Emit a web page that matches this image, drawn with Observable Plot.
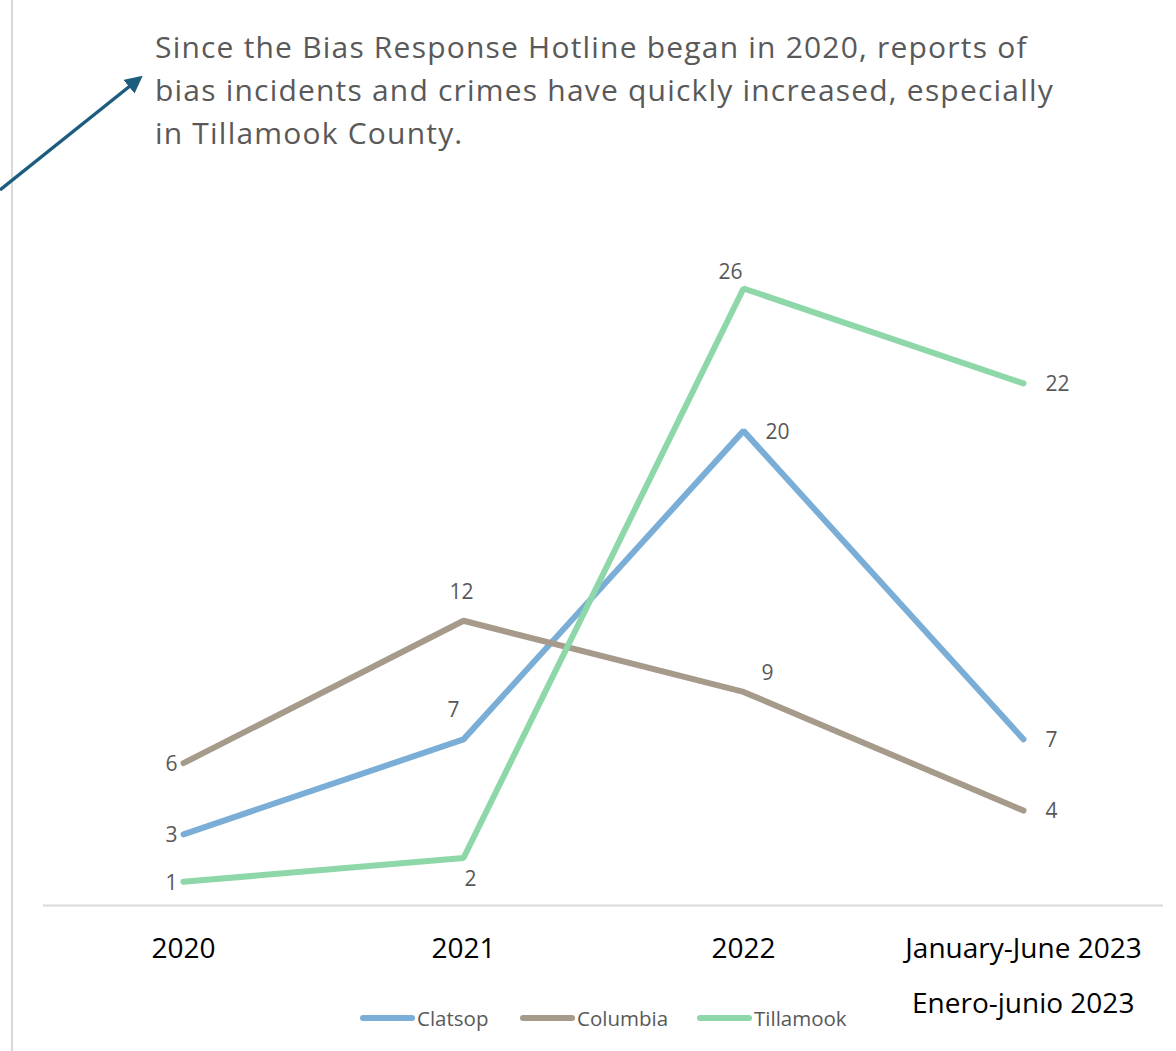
<!DOCTYPE html>
<html>
<head>
<meta charset="utf-8">
<script src="https://cdn.jsdelivr.net/npm/d3@7"></script>
<script src="https://cdn.jsdelivr.net/npm/@observablehq/plot@0.6"></script>
<style>
  html, body { margin: 0; padding: 0; background: #fff; }
  #wrap { position: relative; width: 1176px; height: 1051px; overflow: hidden; font-family: "Open Sans", "Noto Sans", sans-serif; }
  #wrap > svg.plot { position: absolute; left: 0; top: 0; }
  #title { position: absolute; left: 155px; top: 25px; width: 1000px; font-size: 30px; letter-spacing: 1.2px; line-height: 43px; color: #595959; white-space: nowrap; }
  #legend { position: absolute; top: 1004px; left: 0; width: 1176px; height: 30px; font-size: 20.5px; color: #595959; }
  .lg { position: absolute; display: flex; align-items: center; }
  .sw { width: 55px; height: 6px; border-radius: 3px; margin-right: 2px; }
  #note { position: absolute; left: 912px; top: 983px; font-size: 28px; color: #000; }
  #frame { position: absolute; left: 11px; top: 0; width: 2px; height: 1051px; background: #d9d9d9; }
  #arrow { position: absolute; left: 0; top: 0; }
</style>
</head>
<body>
<div id="wrap">
  <div id="frame"></div>
  <div id="title"></div>
  <div id="note"></div>
  <div id="legend"></div>
</div>
<script>
// ---- data ----
const categories = ["2020", "2021", "2022", "January-June 2023"];
const seriesNames = ["Clatsop", "Columbia", "Tillamook"];
const clatsop = [3, 7, 20, 7];
const columbia = [6, 12, 9, 4];
const tillamook = [1, 2, 26, 22];
const titleLines = [
  "Since the Bias Response Hotline began in 2020, reports of",
  "bias incidents and crimes have quickly increased, especially",
  "in Tillamook County."
];
const noteText = "Enero-junio 2023";
// label placement per point (style, not data)
const clatsopPlace = ["left", "aboveLeft", "right", "right"];
const columbiaPlace = ["left", "above", "aboveRight", "right"];
const tillamookPlace = ["left", "below", "aboveLeft2", "right"];

const colors = { Clatsop: "#7aaed6", Columbia: "#a69a8a", Tillamook: "#8ed7a9" };

const rows = [];
[[seriesNames[0], clatsop, clatsopPlace], [seriesNames[1], columbia, columbiaPlace], [seriesNames[2], tillamook, tillamookPlace]]
  .forEach(([name, vals, places]) => vals.forEach((v, i) => rows.push({ series: name, cat: categories[i], value: v, place: places[i] })));

const placements = {
  left:       { dx: -6,  dy: 1,   textAnchor: "end" },
  right:      { dx: 22,  dy: 1,   textAnchor: "start" },
  above:      { dx: -2,  dy: -28, textAnchor: "middle" },
  aboveLeft:  { dx: -10, dy: -29, textAnchor: "middle" },
  aboveRight: { dx: 24,  dy: -19, textAnchor: "middle" },
  aboveLeft2: { dx: -13, dy: -16, textAnchor: "middle" },
  below:      { dx: 7,   dy: 21,  textAnchor: "middle" }
};

const textMarks = Object.entries(placements).map(([k, p]) =>
  Plot.text(rows.filter(d => d.place === k), {
    x: "cat", y: "value", text: d => String(d.value),
    dx: p.dx, dy: p.dy, textAnchor: p.textAnchor,
    fontSize: 21, fill: "#595959"
  })
);

const chart = Plot.plot({
  width: 1176,
  height: 1051,
  marginTop: 288,
  marginBottom: 146,
  marginLeft: 43,
  marginRight: 13,
  style: { fontFamily: "'Open Sans', 'Noto Sans', sans-serif", background: "transparent", overflow: "visible" },
  x: { type: "point", domain: categories, padding: 0.5, label: null },
  y: { domain: [0, 26], axis: null },
  color: { domain: seriesNames, range: seriesNames.map(s => colors[s]) },
  marks: [
    Plot.ruleY([0], { stroke: "#d9d9d9", strokeWidth: 2 }),
    Plot.line(rows, { x: "cat", y: "value", z: "series", stroke: "series", strokeWidth: 6, strokeLinecap: "round", strokeLinejoin: "miter" }),
    ...textMarks,
    Plot.axisX({ tickSize: 0, tickPadding: 33, fontSize: 28, fill: "#000", label: null })
  ]
});
chart.classList.add("plot");
const wrap = document.getElementById("wrap");
wrap.insertBefore(chart, wrap.firstChild.nextSibling);

const titleEl = document.getElementById("title");
titleLines.forEach((l, i) => {
  if (i) titleEl.appendChild(document.createElement("br"));
  titleEl.appendChild(document.createTextNode(l));
});
document.getElementById("note").textContent = noteText;

// legend
const legendX = { Clatsop: 360, Columbia: 520, Tillamook: 697 };
const legend = document.getElementById("legend");
seriesNames.forEach(s => {
  const item = document.createElement("div");
  item.className = "lg";
  item.style.left = legendX[s] + "px";
  const sw = document.createElement("div");
  sw.className = "sw";
  sw.style.background = colors[s];
  const t = document.createElement("span");
  t.textContent = s;
  item.appendChild(sw); item.appendChild(t);
  legend.appendChild(item);
});

// annotation arrow
const ns = "http://www.w3.org/2000/svg";
const asvg = document.createElementNS(ns, "svg");
asvg.setAttribute("id", "arrow");
asvg.setAttribute("width", 200); asvg.setAttribute("height", 220);
asvg.innerHTML = `<defs><marker id="ah" viewBox="0 0 10 10" refX="8" refY="5" markerWidth="5" markerHeight="5" orient="auto"><path d="M0,0 L10,5 L0,10 z" fill="#1c5d7d"/></marker></defs>
<line x1="0" y1="190" x2="140" y2="78" stroke="#1c5d7d" stroke-width="3.5" marker-end="url(#ah)"/>`;
wrap.appendChild(asvg);
</script>
</body>
</html>
